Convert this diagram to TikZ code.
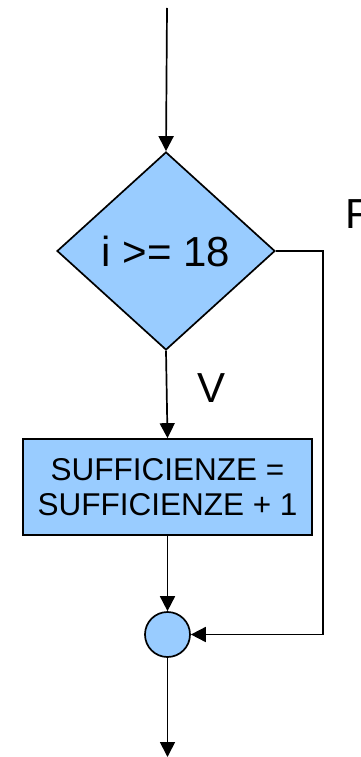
\documentclass[tikz,border=0pt]{standalone}
\usepackage{fontspec}
\setmainfont{Liberation Sans}
\usetikzlibrary{shapes.geometric,arrows.meta}

\definecolor{flowblue}{HTML}{99CCFF}

\tikzset{
  flowline/.style={draw=black, line width=1.7pt},
  flowarrow/.style={flowline, -{Triangle[length=15pt,width=15pt]}},
  decision/.style={diamond, draw=black, line width=1.7pt, fill=flowblue,
    minimum width=218pt, minimum height=198pt, inner sep=0pt,
    font=\fontsize{42}{50}\selectfont},
  process/.style={rectangle, draw=black, line width=1.7pt, fill=flowblue,
    minimum width=289pt, minimum height=96pt, inner sep=0pt, align=center,
    font=\fontsize{31.5}{35}\selectfont},
  junction/.style={circle, draw=black, line width=1.7pt, fill=flowblue,
    minimum size=45pt, inner sep=0pt},
  branchlabel/.style={inner sep=0pt, font=\fontsize{42}{50}\selectfont}
}

\begin{document}
\begin{tikzpicture}[x=1pt, y=-1pt]
  \useasboundingbox (0,0) rectangle (360,757);

  % nodes
  \coordinate (start) at (167,8);
  \node[decision] (test) at (166,251) {i >= 18};
  \node[process] (incr) at (167.5,487) {SUFFICIENZE =\\SUFFICIENZE + 1};
  \node[junction] (join) at (167.5,634.5) {};
  \coordinate (stop) at (167.5,757);
  \coordinate (falsecorner) at (323,251);

  % branch labels
  \node[branchlabel] (vlabel) at (212,388) {V};
  \node[branchlabel, anchor=base west] (flabel) at (345,228) {F};

  % connectors
  \draw[flowarrow] (start) -- (test.north);
  \draw[flowarrow] (test.south) -- (incr.north);
  \draw[flowarrow] (incr.south) -- (join.north);
  \draw[flowarrow] (test.east) -- (falsecorner) |- (join.east);
  \draw[flowarrow] (join.south) -- (stop);
\end{tikzpicture}
\end{document}
